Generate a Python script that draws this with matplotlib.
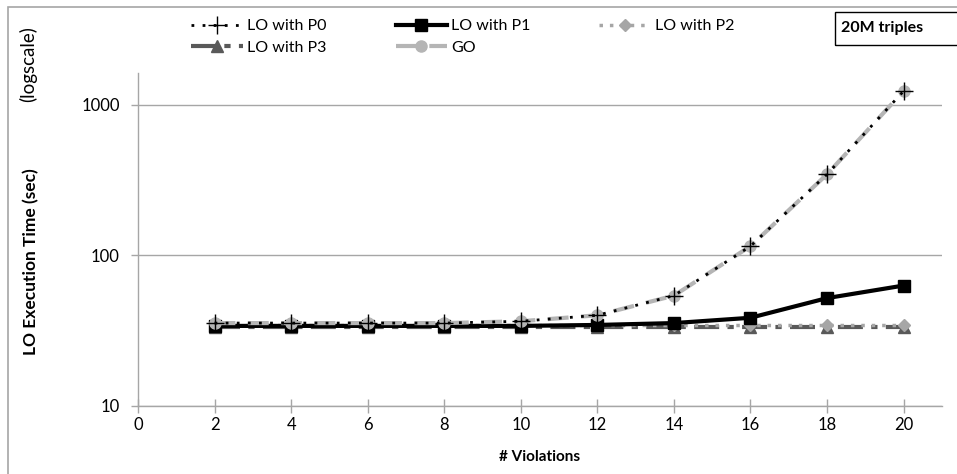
import matplotlib.pyplot as plt
from matplotlib.patches import Rectangle

plt.rcParams['font.family'] = ['Lato', 'DejaVu Sans']

violations = [2, 4, 6, 8, 10, 12, 14, 16, 18, 20]
lo_p0 = [35.5, 35.5, 35.5, 35.5, 36.5, 40, 54, 115, 345, 1230]
lo_p1 = [34, 34, 34, 34, 34, 34.5, 35.5, 38.5, 52, 63]
lo_p2 = [34.5, 34.5, 34.5, 34.5, 34.5, 34.5, 34.5, 34.5, 34.5, 34.5]
lo_p3 = [33.5, 33.5, 33.5, 33.5, 33.5, 33.5, 33.5, 33.5, 33.5, 33.5]
go = [35.5, 35.5, 35.5, 35.5, 36.5, 40, 54, 115, 345, 1230]

x_ticks = [0, 2, 4, 6, 8, 10, 12, 14, 16, 18, 20]
y_ticks = [10, 100, 1000]

fig = plt.figure(figsize=(9.57, 4.74), dpi=100)
ax = fig.add_axes([0.1442, 0.1435, 0.840, 0.7025])

h_p3, = ax.plot(violations, lo_p3, color='#595959', lw=3, ls=(0, (6, 2, 1.5, 2)),
                marker='^', ms=9, zorder=3, label='LO with P3')
h_p2, = ax.plot(violations, lo_p2, color='#a6a6a6', lw=2.5, ls=(0, (1, 2)),
                marker='D', ms=6, zorder=3, label='LO with P2')
h_p1, = ax.plot(violations, lo_p1, color='black', lw=3, marker='s', ms=9,
                zorder=4, label='LO with P1')
h_go, = ax.plot(violations, go, color='#b5b5b5', lw=3, ls=(0, (5, 3)),
                marker='o', ms=8, zorder=5, label='GO')
h_p0, = ax.plot(violations, lo_p0, color='black', lw=2, ls=(0, (1, 3)),
                marker='+', ms=13, mew=1, zorder=6, label='LO with P0')

ax.set_yscale('log')
ax.set_ylim(10, 10 ** 3.21)
ax.set_xlim(0, 21)
ax.set_xticks(x_ticks)
ax.set_yticks(y_ticks)
ax.set_yticklabels([str(v) for v in y_ticks])
ax.minorticks_off()
ax.tick_params(axis='both', labelsize=12, color='#a6a6a6', width=1)
ax.tick_params(axis='x', direction='inout', length=10, pad=3)
ax.tick_params(axis='y', length=5, pad=8)
ax.grid(axis='y', color='#a6a6a6', lw=1)
ax.set_axisbelow(True)
for s in ['top', 'right']:
    ax.spines[s].set_visible(False)
for s in ['left', 'bottom']:
    ax.spines[s].set_color('#a6a6a6')
    ax.spines[s].set_linewidth(1)

ax.set_xlabel('# Violations', fontsize=11, fontweight='bold', labelpad=12)
fig.text(0.032, 0.447, 'LO Execution Time (sec)', rotation=90, fontsize=12.5,
         fontweight='bold', ha='center', va='center')
fig.text(0.029, 0.865, '(logscale)', rotation=90, fontsize=13.5,
         ha='center', va='center')

fig.legend(handles=[h_p0, h_p3, h_p1, h_go, h_p2], ncol=3, frameon=False,
           loc='upper left', bbox_to_anchor=(0.185, 0.99), fontsize=11.5,
           handlelength=3.2, columnspacing=4.3, labelspacing=0.45,
           handletextpad=0.3)

fig.text(0.879, 0.94, '20M triples', fontsize=11.5, fontweight='bold',
         ha='left', va='center')
fig.patches.append(Rectangle((0.872, 0.905), 0.14, 0.07, transform=fig.transFigure,
                             fill=False, ec='black', lw=1))
fig.patches.append(Rectangle((0.0085, -0.01), 1.0, 0.995, transform=fig.transFigure,
                             fill=False, ec='#a6a6a6', lw=1.2))

fig.savefig('out.png', dpi=100)
